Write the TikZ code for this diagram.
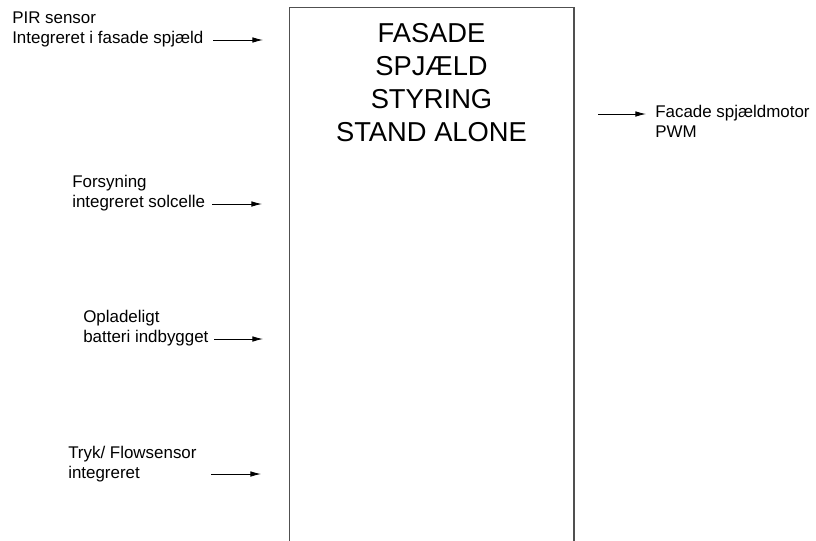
\documentclass[tikz,border=0pt]{standalone}
\usepackage{fontspec}
\setmainfont{Liberation Sans}
\usetikzlibrary{arrows.meta}
\definecolor{boxgray}{RGB}{80,80,80}
\begin{document}
\begin{tikzpicture}[x=0.75pt,y=-0.75pt,
  lbl/.style={anchor=base west,align=left,inner sep=0pt,font=\fontsize{12.7pt}{14.3pt}\selectfont},
  title/.style={anchor=base,align=center,inner sep=0pt,font=\fontsize{20.5pt}{24.75pt}\selectfont},
  arr/.style={draw=black,line width=0.65pt,-{Latex[length=8pt,width=4.2pt]}},
  ctrlbox/.style={draw=boxgray,line width=0.9pt}]
\useasboundingbox (0,0) rectangle (816,540);
\clip (0,0) rectangle (816,540);
% main box
\draw[ctrlbox] (289.5,7.5) coordinate (boxtl) -- (289.5,560) -- (574,560) -- (574,7.5) -- cycle;
\node[title] (ttl) at (431.5,141) {FASADE\\SPJÆLD\\STYRING\\STAND ALONE};
% labels (anchored at the baseline of their last line)
\node[lbl] (pir) at (12,43) {PIR sensor\\Integreret i fasade spjæld};
\node[lbl] (mot) at (655,137) {Facade spjældmotor\\PWM};
\node[lbl] (fors) at (72,207) {Forsyning\\integreret solcelle};
\node[lbl] (batt) at (83,342) {Opladeligt\\batteri indbygget};
\node[lbl] (tryk) at (68,478) {Tryk/ Flowsensor\\integreret};
% arrow coordinates
\coordinate (pirA) at (213,40); \coordinate (pirB) at (263,40);
\coordinate (motA) at (598,114); \coordinate (motB) at (646,114);
\coordinate (forsA) at (212,204); \coordinate (forsB) at (262,204);
\coordinate (battA) at (214,339); \coordinate (battB) at (263,339);
\coordinate (trykA) at (211,474); \coordinate (trykB) at (261,474);
\draw[arr] (pirA) -- (pirB);
\draw[arr] (motA) -- (motB);
\draw[arr] (forsA) -- (forsB);
\draw[arr] (battA) -- (battB);
\draw[arr] (trykA) -- (trykB);
\end{tikzpicture}
\end{document}
